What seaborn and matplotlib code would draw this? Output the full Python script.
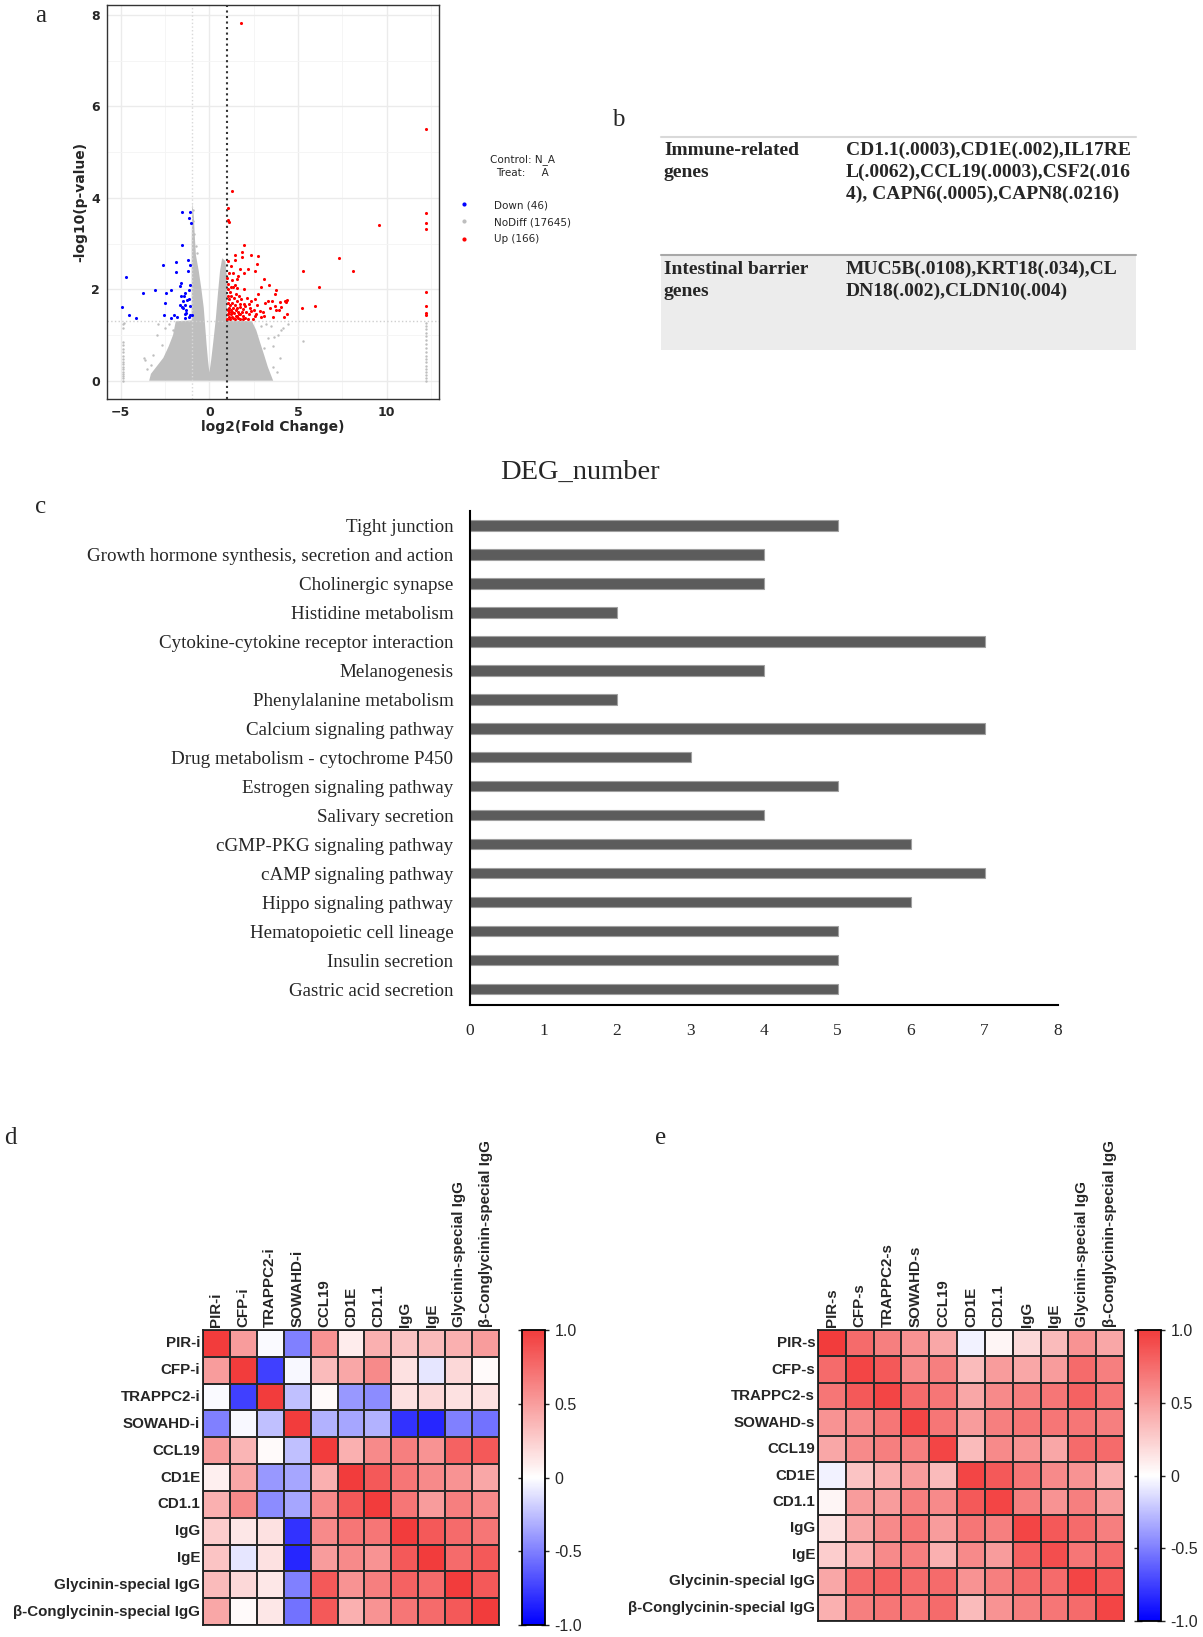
import matplotlib
matplotlib.use('Agg')
import matplotlib.pyplot as plt
import matplotlib.colors as mcolors
from matplotlib.lines import Line2D
import seaborn as sns
import pandas as pd

sns.set_style('white')
plt.rcParams['font.family'] = ['DejaVu Sans']

# ---------------- data: panel a (volcano) ----------------
up_x = [1.79, 12.2, 1.28, 1.04, 1.04, 1.10, 12.2, 12.2, 12.2, 9.58, 7.32, 8.08, 5.30, 6.17, 5.25, 5.94,
        12.2, 12.2, 12.2, 12.2,
        1.98, 1.42, 1.85, 2.36, 2.74, 1.45, 1.04, 1.85, 2.68, 2.17, 2.55, 1.98, 3.06, 1.57, 1.42, 1.04,
        3.34, 2.89, 1.94, 1.55, 1.20, 3.77, 3.68, 4.40, 4.30, 4.25, 4.00, 3.53, 3.72, 4.05, 3.30, 2.77,
        2.60, 2.36, 2.21, 2.83, 3.15, 3.92, 3.75, 4.40, 4.21, 3.11, 2.89, 2.55, 2.36, 2.02, 1.70, 1.89,
        1.75, 1.55, 2.02, 2.17, 1.89,
        1.02, 1.03, 1.05, 1.04, 1.06, 1.03, 1.02, 1.08, 1.10, 1.12, 1.12, 1.15, 1.15, 1.18, 1.20, 1.22,
        1.22, 1.25, 1.27, 1.30, 1.32, 1.33, 1.35, 1.38, 1.40, 1.42, 1.45, 1.48, 1.50, 1.52, 1.55, 1.58,
        1.60, 1.62, 1.65, 1.68, 1.72, 1.75, 1.80, 1.85, 1.90, 1.95, 2.05, 2.10, 2.25, 2.30, 2.45, 2.50,
        2.65, 2.70, 3.00, 3.40, 3.60, 1.10, 1.28, 1.20, 1.60, 1.75, 1.35]
up_y = [7.83, 5.50, 4.15, 3.77, 3.52, 3.48, 3.68, 3.44, 3.33, 3.40, 2.68, 2.39, 2.40, 2.05, 1.60, 1.64,
        1.94, 1.64, 1.49, 1.44,
        2.98, 2.75, 2.82, 2.75, 2.72, 2.64, 2.63, 2.70, 2.55, 2.44, 2.40, 2.35, 2.22, 2.22, 2.10, 2.11,
        2.10, 2.06, 2.00, 2.02, 2.05, 1.98, 1.89, 1.76, 1.72, 1.74, 1.72, 1.74, 1.63, 1.62, 1.74, 1.89,
        1.78, 1.74, 1.67, 1.52, 1.69, 1.54, 1.55, 1.47, 1.39, 1.41, 1.39, 1.41, 1.52, 1.63, 1.67, 1.56,
        1.46, 1.41, 1.38, 1.35, 1.35,
        1.35, 1.45, 1.55, 1.70, 1.85, 2.00, 2.25, 1.40, 1.60, 1.50, 1.78, 1.35, 1.95, 1.65, 1.45, 1.55,
        1.85, 1.40, 1.70, 1.50, 1.60, 2.05, 1.38, 1.80, 1.48, 1.65, 1.35, 1.90, 1.55, 1.42, 1.75, 1.60,
        1.38, 1.50, 1.85, 1.45, 1.62, 1.35, 1.78, 1.50, 1.42, 1.68, 1.50, 1.80, 1.45, 1.60, 1.35, 1.55,
        1.45, 1.65, 1.50, 1.60, 1.40, 2.35, 2.20, 2.50, 2.30, 2.45, 2.35]

down_x = [-1.57, -1.08, -1.17, -1.04, -1.57, -1.91, -2.60, -1.21, -1.11, -1.19, -1.89, -4.70, -1.60,
          -1.68, -1.08, -1.13, -2.17, -3.06, -3.72, -2.47, -1.36, -1.42, -1.60, -1.15, -1.51, -2.51,
          -1.64, -1.08, -1.40, -4.91, -1.57, -1.30, -1.32, -2.58, -2.02, -4.53, -1.09, -1.00, -1.40,
          -1.83, -2.17, -4.15, -1.15, -1.38, -1.51, -1.26]
down_y = [3.69, 3.70, 3.55, 3.44, 2.97, 2.59, 2.54, 2.65, 2.53, 2.41, 2.38, 2.26, 2.14,
          2.07, 2.09, 1.99, 1.99, 1.98, 1.91, 1.91, 1.93, 1.85, 1.85, 1.79, 1.75, 1.69,
          1.66, 1.64, 1.65, 1.62, 1.61, 1.55, 1.48, 1.44, 1.44, 1.43, 1.44, 1.43, 1.37,
          1.39, 1.37, 1.37, 1.40, 1.46, 1.58, 1.77]

# outline of the dense NoDiff cloud
nodiff_env_x = [-3.4, -3.3, -3.0, -2.6, -2.3, -2.05, -1.9, -1.0, -1.0, -0.97, -0.88, -0.83, -0.76, -0.6,
                -0.45, -0.32, -0.24, -0.16, -0.08, 0.0, 0.1, 0.22, 0.36, 0.48, 0.6, 0.72, 0.9, 0.98,
                1.0, 2.4, 2.65, 2.85, 3.1, 3.3, 3.5, 3.6]
nodiff_env_y = [0.0, 0.15, 0.3, 0.5, 0.75, 1.0, 1.3, 1.32, 3.0, 3.9, 3.6, 3.2, 2.75, 2.4,
                2.0, 1.6, 1.2, 0.8, 0.45, 0.18, 0.45, 0.85, 1.35, 1.9, 2.4, 2.68, 2.62, 2.3,
                1.32, 1.3, 1.1, 0.85, 0.55, 0.3, 0.1, 0.0]
# scattered NoDiff genes outside the cloud
nodiff_x = [-2.89, -2.98, -2.70, -3.17, -3.68, -3.62, -2.04, -1.66, -1.38, -4.87, -4.81, 4.15, 4.43,
            3.87, 3.58, 5.28, 3.30, 3.10, 2.92, 4.06, 3.64, 3.45, 3.20, 2.90, -0.90, -0.85, -0.78,
            -0.72, -0.93, -2.30, -2.50, -3.30, -3.50, 3.60, 3.80, 4.00, -1.20, -1.50]
nodiff_y = [1.23, 1.00, 0.79, 0.57, 0.49, 0.45, 1.12, 1.19, 1.08, 1.23, 1.27, 1.15, 1.23,
            1.00, 0.75, 0.86, 0.93, 0.71, 0.49, 1.12, 0.96, 1.20, 1.25, 1.20, 3.73, 3.21, 2.95,
            2.80, 3.50, 1.25, 1.15, 0.35, 0.25, 0.30, 0.20, 0.50, 1.25, 1.22]
# genes stacked at the fold-change limits
left_col_y = [0.0, 0.05, 0.1, 0.15, 0.2, 0.26, 0.31, 0.37, 0.42, 0.48, 0.55, 0.62, 0.7, 0.78, 0.85, 1.15]
right_col_y = [0.0, 0.06, 0.12, 0.18, 0.25, 0.32, 0.4, 0.48, 0.55, 0.63, 0.72, 0.8, 0.88, 0.97, 1.05,
               1.13, 1.2, 1.27]

# ---------------- data: panel b (table) ----------------
table_groups = ['Immune-related\ngenes', 'Intestinal barrier\ngenes']
table_genes = ['CD1.1(.0003),CD1E(.002),IL17RE\nL(.0062),CCL19(.0003),CSF2(.016\n4), CAPN6(.0005),CAPN8(.0216)',
               'MUC5B(.0108),KRT18(.034),CL\nDN18(.002),CLDN10(.004)']

# ---------------- data: panel c (KEGG bars) ----------------
pathways = ['Tight junction', 'Growth hormone synthesis, secretion and action', 'Cholinergic synapse',
            'Histidine metabolism', 'Cytokine-cytokine receptor interaction', 'Melanogenesis',
            'Phenylalanine metabolism', 'Calcium signaling pathway', 'Drug metabolism - cytochrome P450',
            'Estrogen signaling pathway', 'Salivary secretion', 'cGMP-PKG signaling pathway',
            'cAMP signaling pathway', 'Hippo signaling pathway', 'Hematopoietic cell lineage',
            'Insulin secretion', 'Gastric acid secretion']
deg_number = [5, 4, 4, 2, 7, 4, 2, 7, 3, 5, 4, 6, 7, 6, 5, 5, 5]

# ---------------- data: panels d, e (correlations) ----------------
labels_d = ['PIR-i', 'CFP-i', 'TRAPPC2-i', 'SOWAHD-i', 'CCL19', 'CD1E', 'CD1.1', 'IgG', 'IgE',
            'Glycinin-special IgG', 'β-Conglycinin-special IgG']
corr_d = [
    [1.00, 0.50, -0.02, -0.50, 0.55, 0.10, 0.40, 0.30, 0.35, 0.40, 0.50],
    [0.50, 1.00, -0.75, -0.03, 0.35, 0.45, 0.60, 0.15, -0.10, 0.20, 0.03],
    [-0.02, -0.75, 1.00, -0.25, 0.03, -0.40, -0.45, 0.15, 0.20, 0.15, 0.15],
    [-0.50, -0.03, -0.25, 1.00, -0.30, -0.35, -0.30, -0.80, -0.85, -0.50, -0.55],
    [0.50, 0.38, 0.03, -0.25, 1.00, 0.40, 0.60, 0.65, 0.55, 0.80, 0.85],
    [0.08, 0.45, -0.40, -0.35, 0.40, 1.00, 0.85, 0.70, 0.60, 0.55, 0.45],
    [0.40, 0.60, -0.45, -0.35, 0.60, 0.85, 1.00, 0.70, 0.50, 0.65, 0.60],
    [0.25, 0.12, 0.15, -0.80, 0.60, 0.70, 0.70, 1.00, 0.85, 0.75, 0.70],
    [0.30, -0.10, 0.15, -0.85, 0.50, 0.60, 0.55, 0.85, 1.00, 0.75, 0.85],
    [0.35, 0.20, 0.12, -0.50, 0.85, 0.55, 0.65, 0.80, 0.75, 1.00, 0.85],
    [0.45, 0.03, 0.12, -0.55, 0.85, 0.40, 0.55, 0.70, 0.75, 0.85, 1.00],
]
labels_e = ['PIR-s', 'CFP-s', 'TRAPPC2-s', 'SOWAHD-s', 'CCL19', 'CD1E', 'CD1.1', 'IgG', 'IgE',
            'Glycinin-special IgG', 'β-Conglycinin-special IgG']
corr_e = [
    [1.00, 0.75, 0.65, 0.55, 0.45, -0.05, 0.05, 0.20, 0.35, 0.55, 0.45],
    [0.75, 0.95, 0.85, 0.60, 0.65, 0.35, 0.50, 0.45, 0.50, 0.75, 0.65],
    [0.70, 0.85, 0.95, 0.75, 0.70, 0.45, 0.60, 0.65, 0.70, 0.80, 0.70],
    [0.55, 0.60, 0.70, 0.95, 0.70, 0.50, 0.65, 0.70, 0.70, 0.70, 0.65],
    [0.45, 0.60, 0.65, 0.65, 0.95, 0.35, 0.60, 0.55, 0.45, 0.75, 0.75],
    [-0.05, 0.30, 0.40, 0.50, 0.35, 0.95, 0.85, 0.70, 0.60, 0.55, 0.40],
    [0.05, 0.50, 0.50, 0.65, 0.60, 0.85, 0.95, 0.65, 0.55, 0.65, 0.50],
    [0.15, 0.45, 0.60, 0.70, 0.50, 0.70, 0.65, 0.95, 0.85, 0.75, 0.65],
    [0.25, 0.40, 0.60, 0.65, 0.40, 0.60, 0.50, 0.80, 0.90, 0.70, 0.75],
    [0.45, 0.75, 0.80, 0.75, 0.75, 0.55, 0.65, 0.75, 0.75, 0.95, 0.85],
    [0.40, 0.65, 0.70, 0.70, 0.75, 0.35, 0.55, 0.65, 0.70, 0.75, 0.95],
]

W, H = 1203, 1637


def box(x0, y0, x1, y1):
    # pixel rectangle (top-left origin) -> figure fraction
    return [x0 / W, 1 - y1 / H, (x1 - x0) / W, (y1 - y0) / H]


fig = plt.figure(figsize=(W / 100, H / 100), dpi=100)
serif = ['Liberation Serif', 'DejaVu Serif']
arial = ['Liberation Sans', 'DejaVu Sans']

# ── PANEL A ────────────────────────────────────────────────────────
ax = fig.add_axes(box(107, 5, 439, 399))
ax.set_axisbelow(True)
ax.fill(nodiff_env_x, nodiff_env_y, color='#bebebe', lw=0, zorder=1)
sns.scatterplot(x=nodiff_x, y=nodiff_y, color='#bebebe', s=3, linewidth=0, ax=ax, zorder=2)
sns.scatterplot(x=[-4.87] * len(left_col_y), y=left_col_y, color='#bebebe', s=3, linewidth=0, ax=ax, zorder=2)
sns.scatterplot(x=[12.2] * len(right_col_y), y=right_col_y, color='#bebebe', s=3, linewidth=0, ax=ax, zorder=2)
ax.axhline(1.301, color='#cfcfcf', ls=':', lw=1, zorder=2)
ax.axvline(-1, color='#d8d8d8', ls=':', lw=1, zorder=2)
ax.axvline(1, color='#333333', ls=':', lw=1.5, zorder=3)
sns.scatterplot(x=up_x, y=up_y, color='#ff0000', s=5, linewidth=0, ax=ax, zorder=4)
sns.scatterplot(x=down_x, y=down_y, color='#0000ff', s=5, linewidth=0, ax=ax, zorder=4)
ax.set_xlim(-5.78, 12.96)
ax.set_ylim(-0.40, 8.22)
ax.set_xticks([-5, 0, 5, 10])
ax.set_yticks([0, 2, 4, 6, 8])
ax.set_xticks([-2.5, 2.5, 7.5, 12.5], minor=True)
ax.set_yticks([1, 3, 5, 7], minor=True)
ax.grid(True, which='major', color='#ebebeb', lw=1.0)
ax.grid(True, which='minor', color='#f4f4f4', lw=0.6)
ax.tick_params(which='major', length=3, width=0.8, color='#333333', labelsize=9, pad=2)
ax.tick_params(which='minor', length=0)
for lab in ax.get_xticklabels() + ax.get_yticklabels():
    lab.set_fontweight('bold')
for s in ax.spines.values():
    s.set_color('#333333')
    s.set_linewidth(1.0)
ax.set_xlabel('log2(Fold Change)', fontsize=10, fontweight='bold', labelpad=1)
ax.set_ylabel('-log10(p-value)', fontsize=10, fontweight='bold', labelpad=3)

fig.text(522 / W, 1 - 160 / H, 'Control: N_A', fontsize=7.5, ha='center', va='center')
fig.text(522 / W, 1 - 173 / H, 'Treat:     A', fontsize=7.5, ha='center', va='center')
handles = [Line2D([], [], ls='', marker='o', ms=2, color=c) for c in ['#0000ff', '#bebebe', '#ff0000']]
ax.legend(handles, ['Down (46)', 'NoDiff (17645)', 'Up (166)'], loc='upper left',
          bbox_to_anchor=(456 / W, 1 - 200 / H), bbox_transform=fig.transFigure, frameon=False,
          fontsize=7.5, handlelength=1.6, handletextpad=2.0, labelspacing=0.68,
          borderpad=0, borderaxespad=0)

# ── PANEL B ────────────────────────────────────────────────────────
axb = fig.add_axes(box(640, 120, 1150, 360))
axb.set_xlim(640, 1150)
axb.set_ylim(360, 120)
axb.axis('off')
axb.fill_between([661, 1136], 255, 350, color='#ececec', lw=0)
axb.plot([661, 1136], [137, 137], color='#d9d9d9', lw=1.5)
axb.plot([661, 1136], [255, 255], color='#a8a8a8', lw=1.5)
for top, grp, genes in zip([142, 261], table_groups, table_genes):
    axb.text(664, top, grp, fontsize=14, fontweight='bold', family=serif, va='top', ha='left', linespacing=1.35)
    axb.text(846, top, genes, fontsize=14, fontweight='bold', family=serif, va='top', ha='left', linespacing=1.35)

# ── PANEL C ────────────────────────────────────────────────────────
axc = fig.add_axes(box(470, 511, 1058, 1005))
bars = pd.DataFrame({'pathway': pathways, 'count': deg_number})
sns.barplot(data=bars, x='count', y='pathway', color='#5c5c5c', width=0.36, edgecolor='#a0a0a0',
            linewidth=0.8, saturation=1, ax=axc)
axc.set_xlim(0, 8)
axc.set_ylim(16.55, -0.5)
axc.set_xticks(range(0, 9))
axc.set_xlabel('')
axc.set_ylabel('')
axc.tick_params(axis='x', length=0, pad=13, labelsize=12.5)
axc.tick_params(axis='y', length=0, pad=12, labelsize=13.7)
for lab in axc.get_xticklabels() + axc.get_yticklabels():
    lab.set_family(serif)
axc.spines['top'].set_visible(False)
axc.spines['right'].set_visible(False)
for k in ['left', 'bottom']:
    axc.spines[k].set_color('black')
    axc.spines[k].set_linewidth(1.5)
fig.text(580 / W, 1 - 472 / H, 'DEG_number', fontsize=20.5, family=serif, ha='center', va='center')

# ── PANELS D, E ────────────────────────────────────────────────────
cmap = mcolors.LinearSegmentedColormap.from_list('corr', ['#0000ff', '#ffffff', '#f23c3c'])


def corr_heatmap(rect, cbar_rect, vals, labels):
    axh = fig.add_axes(box(*rect))
    cax = fig.add_axes(box(*cbar_rect))
    df = pd.DataFrame(vals, index=labels, columns=labels)
    sns.heatmap(df, ax=axh, cbar_ax=cax, cmap=cmap, vmin=-1, vmax=1, linewidths=1.2,
                linecolor='#2a2a2a', cbar_kws={'ticks': [-1, -0.5, 0, 0.5, 1]})
    axh.xaxis.tick_top()
    axh.set_xticklabels(labels, rotation=90, fontsize=10.9, fontweight='bold', family=arial)
    axh.set_yticklabels(labels, rotation=0, fontsize=10.9, fontweight='bold', family=arial)
    axh.tick_params(length=0, pad=2)
    for s in axh.spines.values():
        s.set_visible(True)
        s.set_color('#222222')
        s.set_linewidth(1.3)
    cb = axh.collections[0].colorbar
    cb.outline.set_edgecolor('black')
    cb.outline.set_linewidth(1.3)
    cax.set_yticklabels(['-1.0', '-0.5', '0', '0.5', '1.0'])
    cax.tick_params(direction='inout', length=6, width=1, labelsize=11.5, pad=4, left=True, right=True)
    for lab in cax.get_yticklabels():
        lab.set_family(arial)


corr_heatmap((203, 1330, 499, 1625), (522, 1330, 545, 1625), corr_d, labels_d)
corr_heatmap((818, 1330, 1124, 1621), (1138, 1330, 1161, 1621), corr_e, labels_e)

# panel letters
for letter, (px, py) in zip('abcde', [(41, 16), (618, 120), (41, 507), (10, 1138), (661, 1138)]):
    fig.text(px / W, 1 - py / H, letter, fontsize=18, family=serif, ha='center', va='center')

fig.savefig('out.png', dpi=100)
